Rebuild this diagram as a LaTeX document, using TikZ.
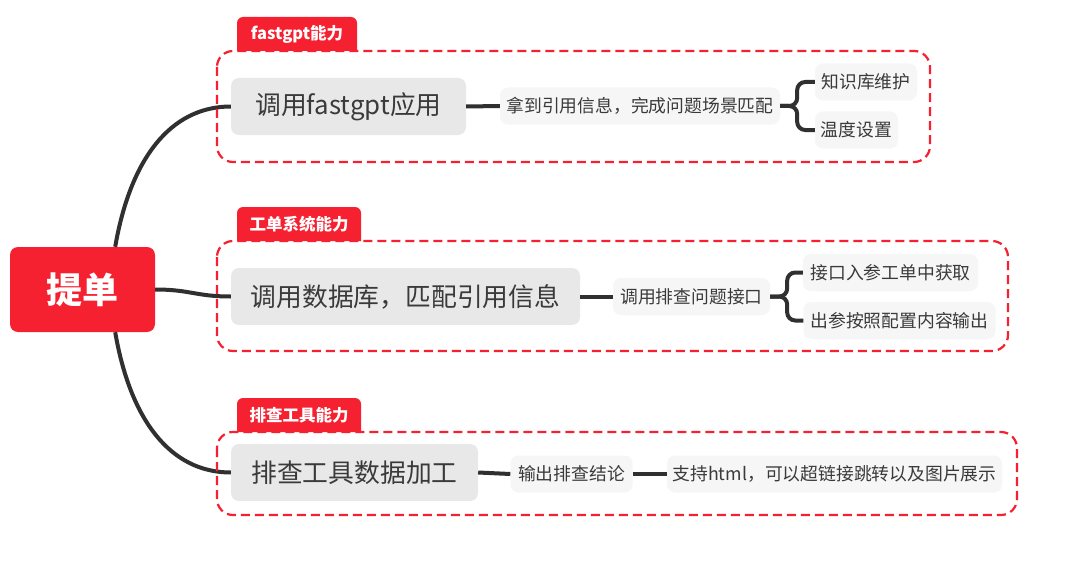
\documentclass[tikz,border=0pt]{standalone}
\usepackage{fontspec}
\setmainfont{Noto Sans CJK SC}
\usetikzlibrary{calc}
\definecolor{brand}{RGB}{246,33,48}
\definecolor{mainfill}{RGB}{232,232,232}
\definecolor{subfill}{RGB}{246,246,246}
\definecolor{txt}{RGB}{58,58,58}
\definecolor{linec}{RGB}{48,48,48}
\begin{document}
\begin{tikzpicture}[x=1pt,y=-1pt,
 rootbox/.style={fill=brand, rounded corners=8pt, text=white, font=\bfseries\fontsize{36}{40}\selectfont, inner sep=0pt, minimum width=145pt, minimum height=85pt},
 mainbox/.style={fill=mainfill, rounded corners=8pt, text=txt, font=\fontsize{25.8}{30}\selectfont, inner sep=0pt, minimum height=57pt},
 subbox/.style={fill=subfill, rounded corners=8pt, text=txt, font=\fontsize{17.8}{20}\selectfont, inner sep=0pt, minimum height=37pt},
 conn/.style={draw=linec, line width=4pt},
 grp/.style={draw=brand, line width=2.2pt, dash pattern=on 9pt off 5pt, rounded corners=16pt},
 tabtext/.style={text=white, font=\bfseries\fontsize{16.5}{18}\selectfont, inner sep=0pt},
 ]
\useasboundingbox (0,0) rectangle (1080,586);
\fill[white] (0,0) rectangle (1080,586);

% nodes
\node[rootbox] (root) at (82.5,289.5) {提单};
\node[mainbox, minimum width=235pt] (m1) at (348.5,106.5) {调用fastgpt应用};
\node[mainbox, minimum width=349pt] (m2) at (405.5,296.5) {调用数据库，匹配引用信息};
\node[mainbox, minimum width=247pt] (m3) at (354.5,472.5) {排查工具数据加工};

\node[subbox, minimum width=280pt] (s1) at (640,106) {拿到引用信息，完成问题场景匹配};
\node[subbox, minimum width=157pt] (s2) at (691.5,296.5) {调用排查问题接口};
\node[subbox, minimum width=122pt] (s3) at (571.5,474) {输出排查结论};

\node[subbox, minimum width=102pt] (l1a) at (866,82) {知识库维护};
\node[subbox, minimum width=83pt] (l1b) at (856.5,130) {温度设置};
\node[subbox, minimum width=175pt] (l2a) at (890.5,272.5) {接口入参工单中获取};
\node[subbox, minimum width=192pt] (l2b) at (899.5,320.5) {出参按照配置内容输出};
\node[subbox, minimum width=335pt] (l3) at (834.5,474) {支持html，可以超链接跳转以及图片展示};

% connectors
\draw[conn] ([xshift=-40pt]root.north east) .. controls +(15,-87) and +(-61,0) .. (m1.west);
\draw[conn] (root.east) .. controls +(35,0) and +(-35,0) .. (m2.west);
\draw[conn] ([xshift=-40pt]root.south east) .. controls +(15,87) and +(-61,0) .. (m3.west);

\draw[conn] (m1.east) -- (s1.west);
\draw[conn] (m2.east) -- (s2.west);
\draw[conn] (m3.east) -- (s3.west);
\draw[conn] (s3.east) -- (l3.west);

\draw[conn, rounded corners=8pt] (s1.east) -- ++(17,0) |- (l1a.west);
\draw[conn, rounded corners=8pt] (s1.east) -- ++(17,0) |- (l1b.west);
\draw[conn, rounded corners=8pt] (s2.east) -- ++(17,0) |- (l2a.west);
\draw[conn, rounded corners=8pt] (s2.east) -- ++(17,0) |- (l2b.west);

% groups
\draw[grp] (217,51) rectangle (930,162);
\draw[grp] (217,241) rectangle (1008,351);
\draw[grp] (217,432) rectangle (1017,515);

% tabs
\fill[brand] (237,51) [rounded corners=6pt] -- (237,17) -- (357,17) [sharp corners] -- (357,51) -- cycle;
\node[tabtext] (t1) at (297,34.5) {fastgpt能力};
\fill[brand] (237,241) [rounded corners=6pt] -- (237,207) -- (361,207) [sharp corners] -- (361,241) -- cycle;
\node[tabtext] (t2) at (299,224.5) {工单系统能力};
\fill[brand] (237,432) [rounded corners=6pt] -- (237,398) -- (361,398) [sharp corners] -- (361,432) -- cycle;
\node[tabtext] (t3) at (299,415.5) {排查工具能力};
\end{tikzpicture}
\end{document}
